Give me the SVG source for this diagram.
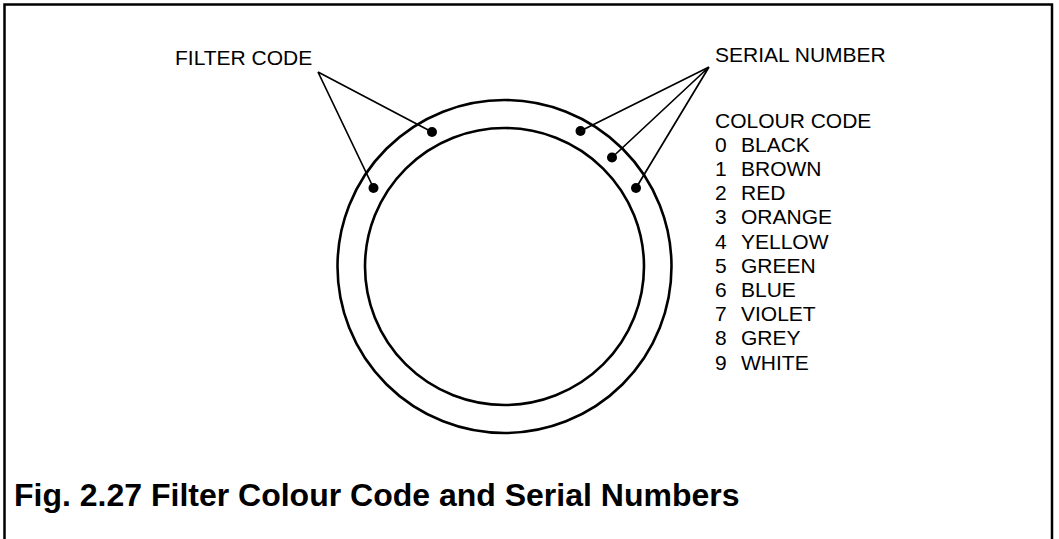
<svg xmlns="http://www.w3.org/2000/svg" width="1059" height="539" viewBox="0 0 1059 539">
<style>
.t{font-family:"Liberation Sans",Arial,sans-serif;font-size:21px;fill:#000}
.cap{font-family:"Liberation Sans",Arial,sans-serif;font-size:32px;font-weight:bold;fill:#000}
.ring{fill:none;stroke:#000;stroke-width:2.6}
.lead{fill:none;stroke:#000;stroke-width:1.7}
.dot{fill:#000}
</style>
<rect width="1059" height="539" fill="#fff"/>
<g id="frame">
<path d="M4.5 539 V4.5 H1052 V539" fill="none" stroke="#000" stroke-width="2.5"/>
</g>
<g id="filter">
<ellipse class="ring" cx="504.5" cy="266.5" rx="167" ry="166.5"/>
<ellipse class="ring" cx="504.5" cy="266.5" rx="139.5" ry="138.5"/>
</g>
<g id="connectors">
<path class="lead" d="M318 72 L432 132 M318 72 L373.5 188"/>
<path class="lead" d="M709 67 L580.5 131 M709 67 L612 157.5 M709 67 L636 188"/>
</g>
<g id="dots">
<circle class="dot" cx="432" cy="132" r="5"/>
<circle class="dot" cx="373.5" cy="188" r="5"/>
<circle class="dot" cx="580.5" cy="131" r="5"/>
<circle class="dot" cx="612" cy="157.5" r="5"/>
<circle class="dot" cx="636" cy="188" r="5"/>
</g>
<g id="filter-code-label"><text class="t" x="175" y="65">FILTER CODE</text></g>
<g id="serial-number-label"><text class="t" x="715" y="62">SERIAL NUMBER</text></g>
<g id="colour-code">
<text class="t" x="715" y="127.5">COLOUR CODE</text>
<text class="t" x="715" y="151.7">0</text><text class="t" x="741" y="151.7">BLACK</text>
<text class="t" x="715" y="175.9">1</text><text class="t" x="741" y="175.9">BROWN</text>
<text class="t" x="715" y="200.1">2</text><text class="t" x="741" y="200.1">RED</text>
<text class="t" x="715" y="224.3">3</text><text class="t" x="741" y="224.3">ORANGE</text>
<text class="t" x="715" y="248.5">4</text><text class="t" x="741" y="248.5">YELLOW</text>
<text class="t" x="715" y="272.7">5</text><text class="t" x="741" y="272.7">GREEN</text>
<text class="t" x="715" y="296.9">6</text><text class="t" x="741" y="296.9">BLUE</text>
<text class="t" x="715" y="321.1">7</text><text class="t" x="741" y="321.1">VIOLET</text>
<text class="t" x="715" y="345.3">8</text><text class="t" x="741" y="345.3">GREY</text>
<text class="t" x="715" y="369.5">9</text><text class="t" x="741" y="369.5">WHITE</text>
</g>
<g id="caption"><text class="cap" x="14" y="506">Fig. 2.27 Filter Colour Code and Serial Numbers</text></g>
</svg>
